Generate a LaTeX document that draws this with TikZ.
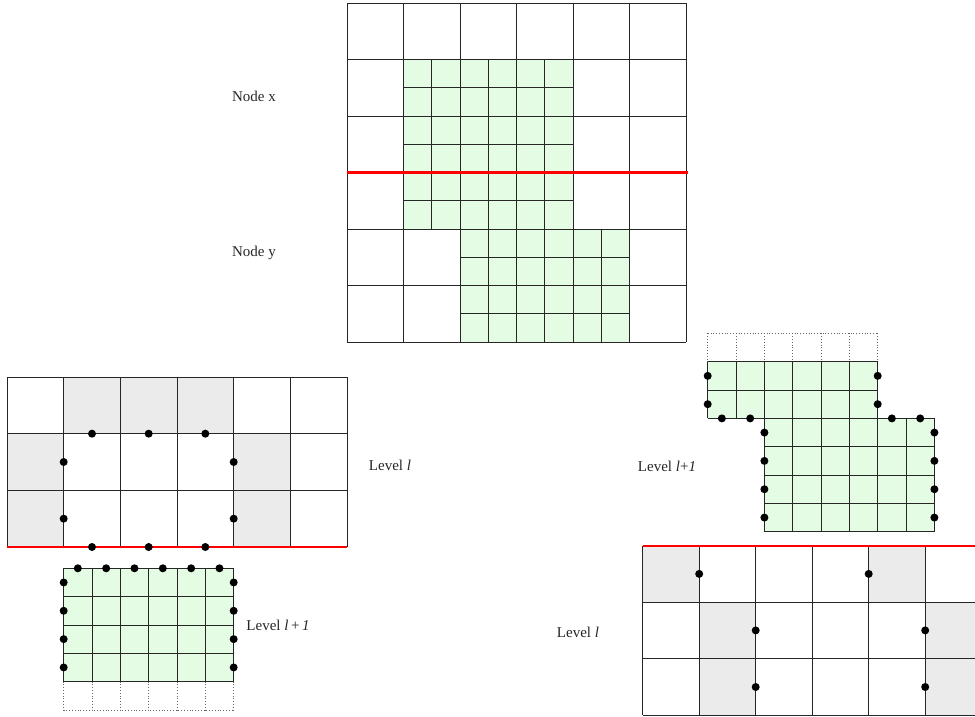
\documentclass[tikz,border=0pt]{standalone}
\usepackage{fontspec}
\setmainfont{Liberation Serif}
\definecolor{finegreen}{HTML}{E4FCE4}
\definecolor{cellgray}{HTML}{EBEBEB}
\begin{document}
\begin{tikzpicture}[x=1pt,y=-1pt,
  gl/.style={black!85,line width=0.9pt},
  redl/.style={red,line width=2.4pt},
  dotl/.style={black!60,dotted,line width=0.8pt},
  pt/.style={fill=black},
  lbl/.style={font=\fontsize{15}{18}\selectfont,text=black!85,inner sep=0pt}]
\useasboundingbox (0,0) rectangle (975,717);

% ---------------- top grid ----------------
\fill[finegreen] (403.5,59.5) rectangle (573,229);
\fill[finegreen] (460,229) rectangle (629.5,342);
\foreach \k in {0,...,6} {
  \draw[gl] ({403.5+\k*28.25},59.5) -- ({403.5+\k*28.25},229);
  \draw[gl] (403.5,{59.5+\k*28.25}) -- (573,{59.5+\k*28.25});
  \draw[gl] ({460+\k*28.25},229) -- ({460+\k*28.25},342);
}
\foreach \k in {0,...,4} {
  \draw[gl] (460,{229+\k*28.25}) -- (629.5,{229+\k*28.25});
}
\foreach \k in {0,...,6} {
  \draw[gl] ({347+\k*56.5},3) -- ({347+\k*56.5},342);
  \draw[gl] (347,{3+\k*56.5}) -- (686,{3+\k*56.5});
}
\draw[redl] (347,172.5) -- (688,172.5);
\node[lbl] (nx) at (254,96) {Node x};
\node[lbl] (ny) at (254,253) {Node y};

% ---------------- bottom-left coarse grid ----------------
\foreach \i/\j in {1/0,2/0,3/0,0/1,4/1,0/2,4/2}
  \fill[cellgray] ({7+\i*56.67},{377+\j*56.67}) rectangle +(56.67,56.67);
\foreach \k in {0,...,6}
  \draw[gl] ({7+\k*56.67},377) -- ({7+\k*56.67},547);
\foreach \k in {0,...,2}
  \draw[gl] (7,{377+\k*56.67}) -- (347,{377+\k*56.67});
\draw[redl] (7,547) -- (347,547);
\foreach \x in {92,148.67,205.33} {
  \fill[pt] (\x,433.67) circle[radius=4pt];
  \fill[pt] (\x,547) circle[radius=4pt];
}
\foreach \y in {462,518.67} {
  \fill[pt] (63.67,\y) circle[radius=4pt];
  \fill[pt] (233.67,\y) circle[radius=4pt];
}
\node[lbl] (ll1) at (390,465) {Level \textit{l}};

% ---------------- bottom-left fine block ----------------
\fill[finegreen] (63.67,568.3) rectangle (233.67,681.6);
\foreach \k in {0,...,6} {
  \draw[gl] ({63.67+\k*28.33},568.3) -- ({63.67+\k*28.33},681.6);
  \draw[dotl] ({63.67+\k*28.33},681.6) -- ({63.67+\k*28.33},709.9);
}
\foreach \k in {0,...,4}
  \draw[gl] (63.67,{568.3+\k*28.33}) -- (233.67,{568.3+\k*28.33});
\draw[dotl] (63.67,709.9) -- (233.67,709.9);
\foreach \k in {0,...,5}
  \fill[pt] ({63.67+(\k+0.5)*28.33},568.3) circle[radius=4pt];
\foreach \k in {0,...,3} {
  \fill[pt] (63.67,{568.3+(\k+0.5)*28.33}) circle[radius=4pt];
  \fill[pt] (233.67,{568.3+(\k+0.5)*28.33}) circle[radius=4pt];
}
\node[lbl] (ll2) at (278,625) {Level \textit{l}\,+\,\textit{1}};

% ---------------- bottom-right fine blocks ----------------
\fill[finegreen] (707.7,361.7) rectangle (877.7,418.4);
\fill[finegreen] (764.4,418.4) rectangle (934.4,531.7);
\foreach \k in {0,...,6} {
  \draw[dotl] ({707.7+\k*28.33},333.4) -- ({707.7+\k*28.33},361.7);
  \draw[gl] ({707.7+\k*28.33},361.7) -- ({707.7+\k*28.33},418.4);
  \draw[gl] ({764.4+\k*28.33},418.4) -- ({764.4+\k*28.33},531.7);
}
\draw[dotl] (707.7,333.4) -- (877.7,333.4);
\foreach \k in {0,...,2}
  \draw[gl] (707.7,{361.7+\k*28.33}) -- (877.7,{361.7+\k*28.33});
\foreach \k in {0,...,4}
  \draw[gl] (764.4,{418.4+\k*28.33}) -- (934.4,{418.4+\k*28.33});
\foreach \k in {0,1} {
  \fill[pt] (707.7,{361.7+(\k+0.5)*28.33}) circle[radius=4pt];
  \fill[pt] (877.7,{361.7+(\k+0.5)*28.33}) circle[radius=4pt];
  \fill[pt] ({707.7+(\k+0.5)*28.33},418.4) circle[radius=4pt];
  \fill[pt] ({877.7+(\k+0.5)*28.33},418.4) circle[radius=4pt];
}
\foreach \k in {0,...,3} {
  \fill[pt] (764.4,{418.4+(\k+0.5)*28.33}) circle[radius=4pt];
  \fill[pt] (934.4,{418.4+(\k+0.5)*28.33}) circle[radius=4pt];
}
\node[lbl] (lr1) at (667,466) {Level \textit{l}+\textit{1}};

% ---------------- bottom-right coarse grid ----------------
\begin{scope}
\clip (0,0) rectangle (975,717);
\foreach \i/\j in {0/0,4/0,1/1,5/1,1/2,5/2}
  \fill[cellgray] ({642.7+\i*56.5},{545.7+\j*56.5}) rectangle +(56.5,56.5);
\foreach \k in {0,...,6}
  \draw[gl] ({642.7+\k*56.5},545.7) -- ({642.7+\k*56.5},715.2);
\foreach \k in {1,...,3}
  \draw[gl] (642.7,{545.7+\k*56.5}) -- (985,{545.7+\k*56.5});
\draw[redl] (642.7,545.7) -- (985,545.7);
\end{scope}
\foreach \x/\y in {699.2/573.9,868.7/573.9,755.7/630.4,925.2/630.4,755.7/687,925.2/687}
  \fill[pt] (\x,\y) circle[radius=4pt];
\node[lbl] (lr2) at (578,632) {Level \textit{l}};
\end{tikzpicture}
\end{document}
